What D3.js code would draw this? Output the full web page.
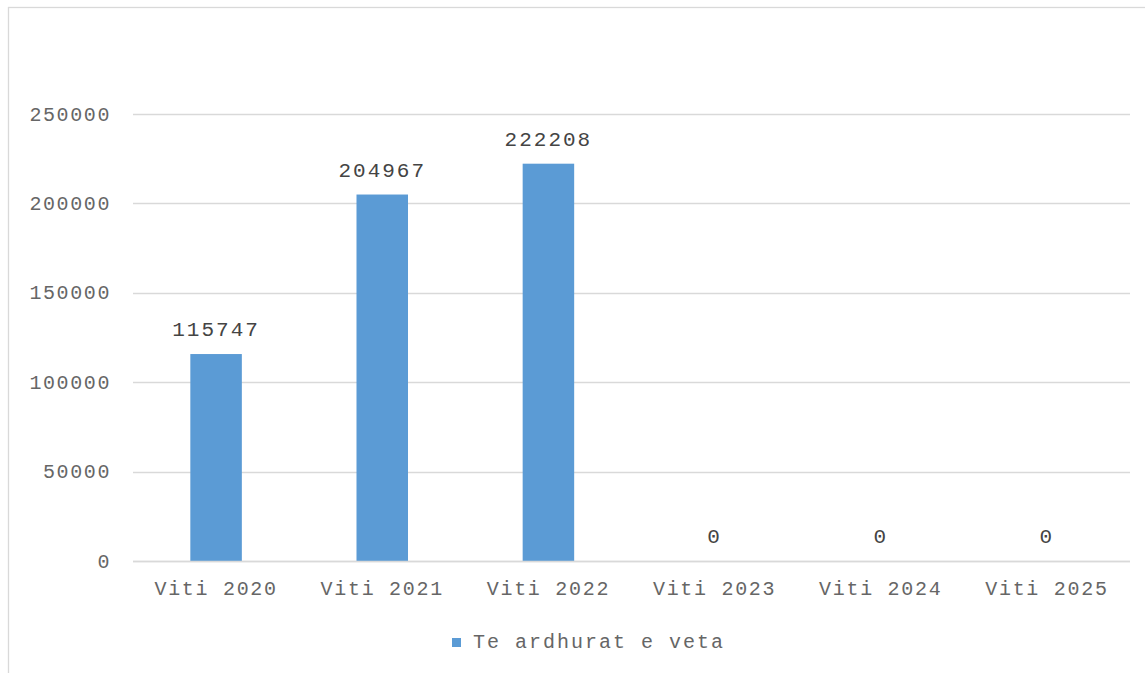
<!DOCTYPE html>
<html>
<head>
<meta charset="utf-8">
<script src="https://cdn.jsdelivr.net/npm/d3@7"></script>
<style>
    body { margin: 0; background: #fff; }
    svg text { font-family: "Liberation Mono", "Courier New", monospace; }
</style>
</head>
<body>
<div id="chart"></div>
<script>
// chart data
let categories = ["Viti 2020", "Viti 2021", "Viti 2022", "Viti 2023", "Viti 2024", "Viti 2025"];
let values = [115747, 204967, 222208, 0, 0, 0];
let yTicks = [0, 50000, 100000, 150000, 200000, 250000];
let seriesName = "Te ardhurat e veta";

let width = 1145;
let height = 673;
let plotLeft = 133, plotRight = 1130, plotTop = 114, plotBottom = 561;
let barColor = "#5B9BD5";
let textColor = "#666666";

let svg = d3.select("#chart")
    .append("svg")
    .attr("width", width)
    .attr("height", height);

// outer chart border (cut off at right and bottom)
svg.append("rect")
    .attr("x", 8.5)
    .attr("y", 7.5)
    .attr("width", 1160)
    .attr("height", 700)
    .style("fill", "none")
    .style("stroke", "#D9D9D9")
    .style("stroke-width", 1.3);

let xScale = d3.scaleBand()
    .domain(categories)
    .range([plotLeft, plotRight])
    .paddingInner(0.69)
    .paddingOuter(0.345);

let yScale = d3.scaleLinear()
    .domain([0, 250000])
    .range([plotBottom, plotTop]);

// gridlines
svg.selectAll(".grid")
    .data(yTicks)
    .enter()
    .append("line")
    .attr("x1", plotLeft)
    .attr("x2", plotRight)
    .attr("y1", function (d) { return Math.round(yScale(d)) + 0.5; })
    .attr("y2", function (d) { return Math.round(yScale(d)) + 0.5; })
    .style("stroke", "#D9D9D9")
    .style("stroke-width", 1.5);

// y axis labels
let yAxis = d3.axisLeft(yScale)
    .tickValues(yTicks)
    .tickFormat(d3.format("d"))
    .tickSize(0)
    .tickPadding(22);

let yG = svg.append("g")
    .attr("transform", "translate(" + plotLeft + ",0)")
    .call(yAxis);
yG.select(".domain").remove();
yG.selectAll("text")
    .style("font-size", "20px")
    .style("letter-spacing", "1.6px")
    .style("fill", textColor)
    .attr("dy", "0.3em");

// bars
svg.selectAll(".bar")
    .data(values)
    .enter()
    .append("rect")
    .attr("x", function (d, i) { return xScale(categories[i]); })
    .attr("y", function (d) { return yScale(d); })
    .attr("width", xScale.bandwidth())
    .attr("height", function (d) { return plotBottom - yScale(d); })
    .style("fill", barColor);

// redraw baseline over bars
svg.append("line")
    .attr("x1", plotLeft)
    .attr("x2", plotRight)
    .attr("y1", plotBottom + 0.5)
    .attr("y2", plotBottom + 0.5)
    .style("stroke", "#D9D9D9")
    .style("stroke-width", 1.5);

// x axis labels
let xAxis = d3.axisBottom(xScale)
    .tickSize(0)
    .tickPadding(20);

let xG = svg.append("g")
    .attr("transform", "translate(0," + plotBottom + ")")
    .call(xAxis);
xG.select(".domain").remove();
xG.selectAll("text")
    .style("font-size", "20px")
    .style("letter-spacing", "1.7px")
    .style("fill", textColor);

// data labels
svg.selectAll(".value-label")
    .data(values)
    .enter()
    .append("text")
    .attr("x", function (d, i) { return xScale(categories[i]) + xScale.bandwidth() / 2; })
    .attr("y", function (d) { return yScale(d) - 18; })
    .attr("text-anchor", "middle")
    .style("font-size", "21px")
    .style("letter-spacing", "2px")
    .style("fill", "#444444")
    .text(function (d) { return d; });

// legend
let legend = svg.append("g");
legend.append("rect")
    .attr("x", 452)
    .attr("y", 638)
    .attr("width", 9)
    .attr("height", 9)
    .style("fill", barColor);
legend.append("text")
    .attr("x", 473)
    .attr("y", 648)
    .style("font-size", "20px")
    .style("letter-spacing", "2px")
    .style("fill", textColor)
    .text(seriesName);
</script>
</body>
</html>
